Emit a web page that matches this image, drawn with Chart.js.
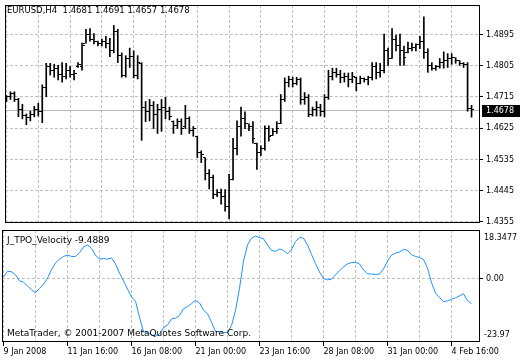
<!DOCTYPE html>
<html>
<head>
<meta charset="utf-8">
<script src="https://cdn.jsdelivr.net/npm/chart.js@4.4.0/dist/chart.umd.min.js"></script>
<style>
  html, body { margin: 0; padding: 0; background: #fff; }
  #wrap { position: relative; width: 520px; height: 360px; }
  #price-chart { position: absolute; left: 0; top: 0; }
  #ind-chart { position: absolute; left: 0; top: 228px; }
</style>
</head>
<body>
<div id="wrap">
  <canvas id="price-chart" width="520" height="228"></canvas>
  <canvas id="ind-chart" width="520" height="132"></canvas>
</div>
<script>
// EURUSD H4 bars, one entry per bar (oldest first)
const symbol = 'EURUSD,H4';
const opens = [
  1.4708, 1.4716, 1.4725, 1.4708, 1.4680, 1.4663, 1.4655, 1.4666, 1.4680, 1.4674,
  1.4742, 1.4803, 1.4792, 1.4798, 1.4781, 1.4775, 1.4792, 1.4781, 1.4803, 1.4803,
  1.4870, 1.4896, 1.4882, 1.4876, 1.4868, 1.4876, 1.4870, 1.4848, 1.4904, 1.4834,
  1.4778, 1.4826, 1.4831, 1.4778, 1.4812, 1.4686, 1.4674, 1.4691, 1.4666, 1.4680,
  1.4686, 1.4674, 1.4644, 1.4632, 1.4644, 1.4630, 1.4652, 1.4618, 1.4602, 1.4554,
  1.4540, 1.4495, 1.4484, 1.4434, 1.4439, 1.4428, 1.4400, 1.4478, 1.4568, 1.4630,
  1.4652, 1.4638, 1.4630, 1.4582, 1.4554, 1.4568, 1.4624, 1.4604, 1.4616, 1.4638,
  1.4708, 1.4758, 1.4764, 1.4753, 1.4764, 1.4708, 1.4714, 1.4666, 1.4680, 1.4686,
  1.4674, 1.4714, 1.4775, 1.4786, 1.4781, 1.4770, 1.4775, 1.4764, 1.4772, 1.4753,
  1.4767, 1.4764, 1.4770, 1.4803, 1.4786, 1.4792, 1.4848, 1.4826, 1.4882, 1.4862,
  1.4848, 1.4842, 1.4856, 1.4859, 1.4865, 1.4876, 1.4842, 1.4806, 1.4798, 1.4803,
  1.4814, 1.4820, 1.4826, 1.4828, 1.4820, 1.4812, 1.4809, 1.4681
];
const highs = [
  1.4719, 1.4730, 1.4730, 1.4711, 1.4694, 1.4666, 1.4674, 1.4688, 1.4697, 1.4750,
  1.4812, 1.4812, 1.4809, 1.4806, 1.4814, 1.4812, 1.4803, 1.4792, 1.4814, 1.4870,
  1.4910, 1.4912, 1.4898, 1.4876, 1.4882, 1.4890, 1.4884, 1.4921, 1.4910, 1.4842,
  1.4834, 1.4856, 1.4848, 1.4834, 1.4814, 1.4702, 1.4708, 1.4702, 1.4694, 1.4708,
  1.4714, 1.4686, 1.4646, 1.4652, 1.4652, 1.4691, 1.4658, 1.4630, 1.4602, 1.4560,
  1.4540, 1.4506, 1.4490, 1.4448, 1.4450, 1.4448, 1.4492, 1.4596, 1.4646, 1.4686,
  1.4672, 1.4638, 1.4644, 1.4582, 1.4574, 1.4632, 1.4632, 1.4624, 1.4644, 1.4722,
  1.4770, 1.4775, 1.4772, 1.4772, 1.4770, 1.4728, 1.4722, 1.4686, 1.4702, 1.4694,
  1.4722, 1.4792, 1.4798, 1.4798, 1.4792, 1.4784, 1.4784, 1.4786, 1.4772, 1.4775,
  1.4770, 1.4775, 1.4814, 1.4814, 1.4812, 1.4896, 1.4856, 1.4912, 1.4893, 1.4896,
  1.4862, 1.4873, 1.4870, 1.4868, 1.4890, 1.4946, 1.4854, 1.4814, 1.4806, 1.4826,
  1.4845, 1.4840, 1.4840, 1.4828, 1.4820, 1.4814, 1.4814, 1.4691
];
const lows = [
  1.4702, 1.4708, 1.4702, 1.4658, 1.4652, 1.4635, 1.4646, 1.4658, 1.4660, 1.4641,
  1.4716, 1.4778, 1.4772, 1.4764, 1.4758, 1.4767, 1.4772, 1.4764, 1.4800, 1.4792,
  1.4870, 1.4876, 1.4868, 1.4862, 1.4862, 1.4856, 1.4831, 1.4842, 1.4814, 1.4772,
  1.4772, 1.4800, 1.4770, 1.4767, 1.4590, 1.4644, 1.4646, 1.4624, 1.4610, 1.4616,
  1.4652, 1.4649, 1.4610, 1.4624, 1.4607, 1.4624, 1.4610, 1.4602, 1.4540, 1.4526,
  1.4476, 1.4450, 1.4422, 1.4428, 1.4406, 1.4386, 1.4364, 1.4476, 1.4548, 1.4602,
  1.4624, 1.4618, 1.4582, 1.4506, 1.4546, 1.4562, 1.4588, 1.4604, 1.4610, 1.4638,
  1.4702, 1.4744, 1.4744, 1.4750, 1.4694, 1.4694, 1.4658, 1.4660, 1.4660, 1.4660,
  1.4658, 1.4708, 1.4764, 1.4772, 1.4756, 1.4758, 1.4744, 1.4756, 1.4733, 1.4753,
  1.4758, 1.4750, 1.4764, 1.4767, 1.4772, 1.4784, 1.4806, 1.4826, 1.4848, 1.4806,
  1.4806, 1.4842, 1.4848, 1.4848, 1.4854, 1.4826, 1.4786, 1.4792, 1.4792, 1.4798,
  1.4798, 1.4800, 1.4809, 1.4812, 1.4806, 1.4800, 1.4674, 1.4657
];
const closes = [
  1.4716, 1.4725, 1.4708, 1.4680, 1.4663, 1.4655, 1.4666, 1.4680, 1.4674, 1.4742,
  1.4803, 1.4792, 1.4798, 1.4781, 1.4775, 1.4792, 1.4781, 1.4784, 1.4809, 1.4862,
  1.4896, 1.4882, 1.4876, 1.4868, 1.4876, 1.4870, 1.4848, 1.4904, 1.4834, 1.4778,
  1.4826, 1.4831, 1.4778, 1.4814, 1.4686, 1.4674, 1.4691, 1.4666, 1.4680, 1.4686,
  1.4674, 1.4658, 1.4632, 1.4644, 1.4624, 1.4652, 1.4618, 1.4624, 1.4554, 1.4548,
  1.4495, 1.4484, 1.4434, 1.4439, 1.4428, 1.4400, 1.4478, 1.4568, 1.4630, 1.4652,
  1.4638, 1.4630, 1.4596, 1.4554, 1.4568, 1.4624, 1.4602, 1.4616, 1.4624, 1.4708,
  1.4758, 1.4764, 1.4753, 1.4764, 1.4708, 1.4714, 1.4666, 1.4680, 1.4686, 1.4674,
  1.4714, 1.4775, 1.4786, 1.4781, 1.4770, 1.4775, 1.4764, 1.4775, 1.4753, 1.4767,
  1.4764, 1.4770, 1.4803, 1.4786, 1.4792, 1.4848, 1.4826, 1.4882, 1.4862, 1.4848,
  1.4828, 1.4856, 1.4859, 1.4865, 1.4876, 1.4842, 1.4806, 1.4798, 1.4803, 1.4814,
  1.4820, 1.4826, 1.4828, 1.4820, 1.4812, 1.4809, 1.4681, 1.4678
];

// J_TPO_Velocity indicator, one value per bar
const indicatorName = 'J_TPO_Velocity';
const velocity = [
  0.66, 2.71, 2.58, 1.43, -0.88, -1.39, -2.8, -4.21, -5.36, -3.7,
  -2.16, 0.15, 3.35, 5.92, 7.33, 8.35, 8.86, 8.35, 8.35, 9.76,
  11.94, 12.71, 11.43, 8.86, 7.33, 7.58, 7.33, 7.84, 5.53, 2.07,
  -0.88, -3.95, -6.9, -8.57, -14.6, -20.1, -20.36, -21.26, -21.77, -21.0,
  -18.57, -17.54, -15.24, -14.98, -13.95, -11.4, -10.62, -9.47, -8.19, -9.21,
  -11.9, -13.3, -16.5, -19.98, -20.1, -20.36, -20.36, -17.8, -12.03, -3.7,
  6.56, 12.71, 15.27, 16.04, 15.5, 15.02, 12.71, 10.66, 10.28, 11.17,
  10.66, 9.38, 10.92, 14.0, 15.53, 15.28, 12.71, 9.12, 5.66, 2.45,
  0.02, -0.49, -0.24, 1.43, 2.97, 4.38, 5.53, 6.05, 6.17, 5.53,
  3.22, 1.82, 1.69, 1.56, 1.69, 3.61, 6.56, 8.86, 9.63, 10.02,
  11.05, 10.66, 8.99, 8.35, 7.97, 7.2, 3.99, -1.52, -5.49, -7.16,
  -8.7, -8.44, -7.8, -7.29, -6.52, -5.75, -8.31, -9.4889
];
const indicatorMax = 18.3477;
const indicatorMin = -23.97;

// axes
const priceMin = 1.4352;
const priceMax = 1.4980;
const priceTicks = [1.4355, 1.4445, 1.4535, 1.4625, 1.4715, 1.4805, 1.4895];
const gridBars = [0, 8, 16, 24, 32, 40, 48, 56, 64, 72, 80, 88, 96, 104, 112];
const dateBars = [0, 16, 32, 48, 64, 80, 96, 112];
const dateLabels = ['9 Jan 2008', '11 Jan 16:00', '16 Jan 08:00', '21 Jan 00:00',
                    '23 Jan 16:00', '28 Jan 08:00', '31 Jan 00:00', '4 Feb 16:00'];
const copyright = 'MetaTrader, \u00a9 2001-2007 MetaQuotes Software Corp.';

const FONT_FAMILY = '"DejaVu Sans", sans-serif';
const CAPTION_FONT = '9px ' + FONT_FAMILY;
Chart.defaults.font.family = FONT_FAMILY;
Chart.defaults.font.size = 8;
Chart.defaults.color = '#000';

const last = closes.length - 1;
const GRID = '#c0c0c0';

function xAxis(showLabels) {
    return {
        type: 'linear', min: -0.375, max: 119.125, offset: false,
        afterBuildTicks: s => { s.ticks = gridBars.map(v => ({ value: v })); },
        afterFit: s => { s.height = showLabels ? 18 : 0; s.paddingLeft = 0; s.paddingRight = 0; },
        grid: {
            color: GRID, offset: false, drawTicks: showLabels, tickLength: 4,
            tickColor: c => (c.tick && dateBars.includes(c.tick.value)) ? '#000' : 'rgba(0,0,0,0)'
        },
        border: { display: false, dash: [3, 2] },
        ticks: {
            display: showLabels, autoSkip: false, maxRotation: 0, minRotation: 0,
            align: 'start', padding: 1,
            callback: v => { const k = dateBars.indexOf(v); return k < 0 ? '' : dateLabels[k]; }
        }
    };
}

function yAxis(min, max, ticks, digits) {
    return {
        position: 'right', min: min, max: max,
        afterBuildTicks: s => { s.ticks = ticks.map(v => ({ value: v })); },
        afterFit: s => { s.width = 40; s.paddingTop = 0; s.paddingBottom = 0; },
        grid: { color: GRID, tickColor: '#000', tickLength: 3 },
        border: { display: false, dash: [3, 2] },
        ticks: { padding: 3, callback: v => v.toFixed(digits) }
    };
}

// black frame round the plot area
const frame = {
    id: 'frame',
    afterDraw(chart) {
        const { ctx, chartArea: a } = chart;
        ctx.save();
        ctx.strokeStyle = '#000';
        ctx.lineWidth = 1;
        ctx.strokeRect(Math.round(a.left) + 0.5, Math.round(a.top) + 0.5,
                       Math.round(a.right - a.left) - 1, Math.round(a.bottom - a.top) - 1);
        ctx.restore();
    }
};

// bid line + price box + symbol caption
const priceExtras = {
    id: 'priceExtras',
    beforeDatasetsDraw(chart) {
        const { ctx, chartArea: a, scales: { y } } = chart;
        const py = Math.round(y.getPixelForValue(closes[last])) + 0.5;
        ctx.save();
        ctx.strokeStyle = '#b8b8b8';
        ctx.lineWidth = 1;
        ctx.beginPath();
        ctx.moveTo(a.left, py);
        ctx.lineTo(a.right, py);
        ctx.stroke();
        ctx.restore();
        // keep the 1px open/close ticks sharp
        ctx.imageSmoothingEnabled = false;
    },
    afterDraw(chart) {
        const { ctx, chartArea: a, scales: { y } } = chart;
        const py = Math.round(y.getPixelForValue(closes[last]));
        ctx.save();
        ctx.fillStyle = '#000';
        ctx.fillRect(a.right + 2, py - 5, 38, 12);
        ctx.font = '8px ' + FONT_FAMILY;
        ctx.textBaseline = 'middle';
        ctx.fillStyle = '#fff';
        ctx.fillText(closes[last].toFixed(4), a.right + 6, py + 1);
        ctx.fillStyle = '#000';
        ctx.font = '8.5px ' + FONT_FAMILY;
        ctx.fillText(symbol + '  ' + [opens[last], highs[last], lows[last], closes[last]]
            .map(v => v.toFixed(4)).join(' '), 7, 11);
        ctx.restore();
    }
};

const indicatorExtras = {
    id: 'indicatorExtras',
    afterDraw(chart) {
        const { ctx, chartArea: a } = chart;
        ctx.save();
        ctx.textBaseline = 'middle';
        ctx.fillStyle = '#000';
        ctx.font = CAPTION_FONT;
        ctx.fillText(indicatorName + ' ' + velocity[last].toFixed(4), 7, a.top + 11);
        ctx.fillText(copyright, 7, a.bottom - 8);
        ctx.font = '8px ' + FONT_FAMILY;
        ctx.fillText(indicatorMax.toFixed(4), a.right + 4, a.top + 8);
        ctx.fillText(indicatorMin.toFixed(2), a.right + 4, a.bottom - 7);
        ctx.restore();
    }
};

// 2x1 black tick used as point style for open/close marks
const tickMark = document.createElement('canvas');
tickMark.width = 2;
tickMark.height = 1;
tickMark.getContext('2d').fillRect(0, 0, 2, 1);

const tickStyle = {
    type: 'line',
    showLine: false,
    pointStyle: tickMark,
    order: 1
};

new Chart(document.querySelector('#price-chart').getContext('2d'), {
    type: 'bar',
    data: {
        datasets: [
            {
                type: 'bar',
                label: 'range',
                data: highs.map((h, i) => ({ x: i, y: [lows[i], h] })),
                backgroundColor: '#000',
                barThickness: 1,
                grouped: false,
                order: 2
            },
            Object.assign({ label: 'open', data: opens.map((o, i) => ({ x: i - 0.375, y: o })) }, tickStyle),
            Object.assign({ label: 'close', data: closes.map((c, i) => ({ x: i + 0.375, y: c })) }, tickStyle)
        ]
    },
    options: {
        responsive: false,
        animation: false,
        events: [],
        layout: { padding: { left: 2, top: 3, right: 0, bottom: 1 } },
        plugins: { legend: { display: false }, tooltip: { enabled: false } },
        scales: {
            x: xAxis(false),
            y: yAxis(priceMin, priceMax, priceTicks, 4)
        }
    },
    plugins: [priceExtras, frame]
});

new Chart(document.querySelector('#ind-chart').getContext('2d'), {
    type: 'line',
    data: {
        datasets: [{
            label: indicatorName,
            data: velocity.map((v, i) => ({ x: i, y: v })),
            borderColor: '#1e90ff',
            borderWidth: 1,
            pointRadius: 0,
            tension: 0
        }]
    },
    options: {
        responsive: false,
        animation: false,
        events: [],
        layout: { padding: { left: 2, top: 2, right: 0, bottom: 0 } },
        plugins: { legend: { display: false }, tooltip: { enabled: false } },
        scales: {
            x: xAxis(true),
            y: yAxis(indicatorMin, indicatorMax, [0], 2)
        }
    },
    plugins: [indicatorExtras, frame]
});
</script>
</body>
</html>
